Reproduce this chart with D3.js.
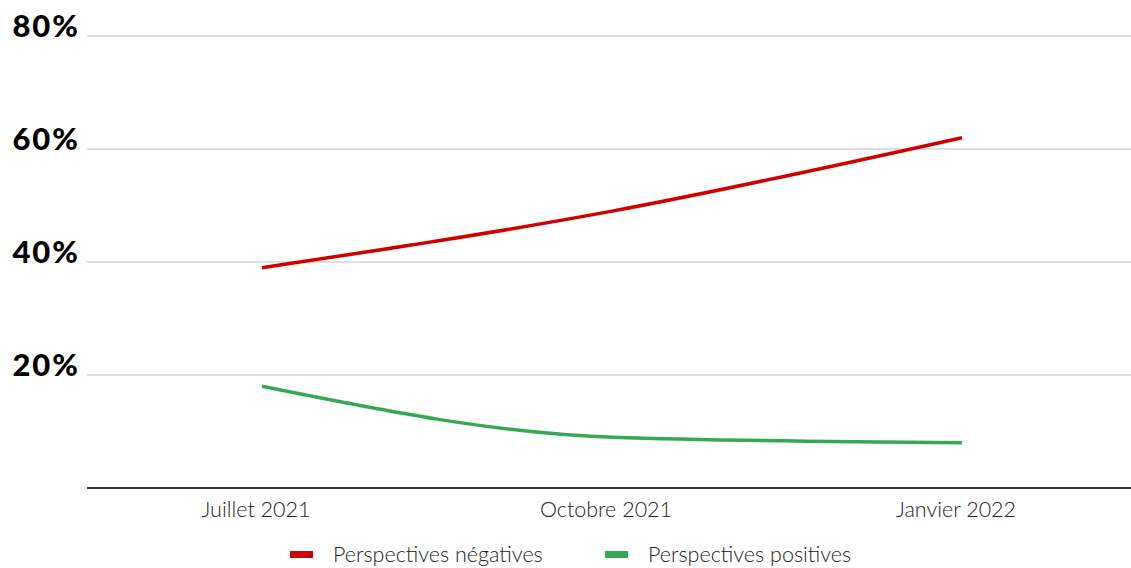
<!DOCTYPE html>
<html>
<head>
<meta charset="utf-8">
<script src="https://cdn.jsdelivr.net/npm/d3@7"></script>
<style>
  html, body { margin: 0; padding: 0; background: #fff; }
  svg { display: block; }
</style>
</head>
<body>
<svg id="chart" width="1131" height="568"></svg>
<script>
const categories = ["Juillet 2021", "Octobre 2021", "Janvier 2022"];
const negatives = [39, 49, 62];
const positives = [18, 9, 8];
const yTicks = [20, 40, 60, 80];
const seriesNames = ["Perspectives négatives", "Perspectives positives"];
const seriesColors = ["#d10000", "#36a852"];

const svg = d3.select("#chart");
const x = d3.scalePoint().domain(categories).range([262, 962]);
const y = d3.scaleLinear().domain([0, 80]).range([488, 36]);

// gridlines
svg.append("g").selectAll("line").data(yTicks).join("line")
  .attr("x1", 87).attr("x2", 1131)
  .attr("y1", d => y(d)).attr("y2", d => y(d))
  .attr("stroke", "#d3d3d3").attr("stroke-width", 1.6);

// y labels
svg.append("g").selectAll("text").data(yTicks).join("text")
  .attr("x", 80).attr("y", d => y(d) + 1)
  .attr("text-anchor", "end")
  .attr("font-family", "Lato, 'DejaVu Sans', sans-serif")
  .attr("font-weight", 900).attr("font-size", 31)
  .attr("letter-spacing", 2)
  .attr("fill", "#000")
  .text(d => d + "%");

// baseline
svg.append("line")
  .attr("x1", 87).attr("x2", 1131)
  .attr("y1", y(0)).attr("y2", y(0))
  .attr("stroke", "#333").attr("stroke-width", 2);

// x labels
svg.append("g").selectAll("text").data(categories).join("text")
  .attr("x", d => x(d) - 6).attr("y", 517)
  .attr("text-anchor", "middle")
  .attr("font-family", "Lato, 'DejaVu Sans', sans-serif")
  .attr("font-weight", 300).attr("font-size", 21.5)
  .attr("fill", "#222")
  .text(d => d);

// lines
const line = d3.line()
  .x((d, i) => x(categories[i]))
  .y(d => y(d))
  .curve(d3.curveMonotoneX);

[negatives, positives].forEach((vals, k) => {
  svg.append("path")
    .attr("d", line(vals))
    .attr("fill", "none")
    .attr("stroke", seriesColors[k])
    .attr("stroke-width", 3.5);
});

// legend
const legendX = [290, 605];
const lg = svg.append("g");
seriesNames.forEach((name, k) => {
  lg.append("rect")
    .attr("x", legendX[k]).attr("y", 551)
    .attr("width", 23).attr("height", 7)
    .attr("fill", seriesColors[k]);
  lg.append("text")
    .attr("x", legendX[k] + 43).attr("y", 562)
    .attr("font-family", "Lato, 'DejaVu Sans', sans-serif")
    .attr("font-weight", 300).attr("font-size", 21.5)
    .attr("fill", "#222")
    .text(name);
});
</script>
</body>
</html>
